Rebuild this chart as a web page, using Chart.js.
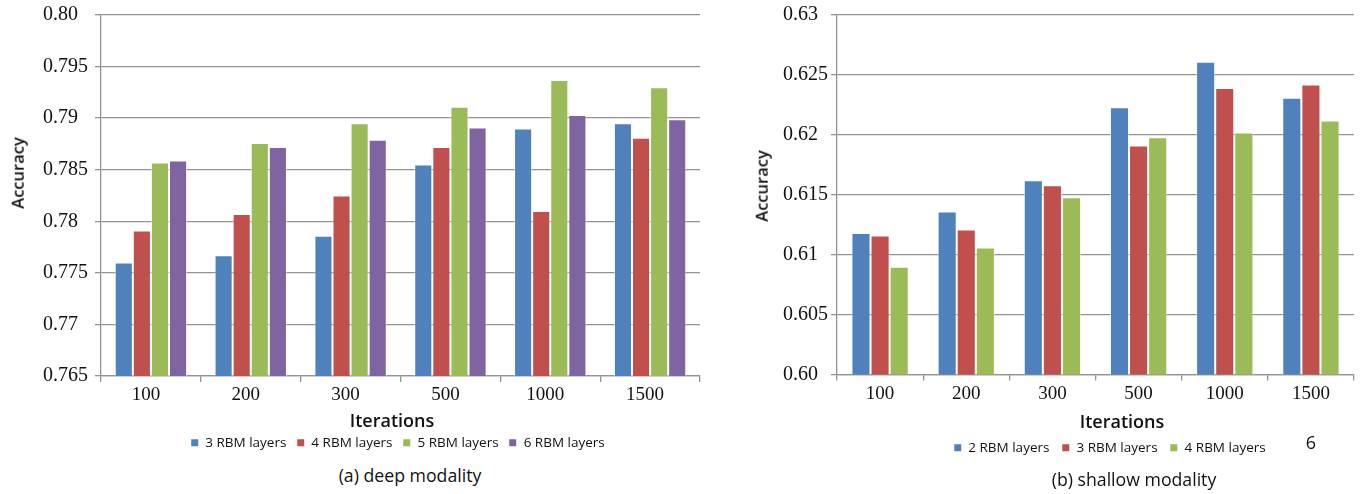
<!DOCTYPE html>
<html>
<head>
<meta charset="utf-8">
<script src="https://cdn.jsdelivr.net/npm/chart.js@4.4.1/dist/chart.umd.min.js"></script>
<style>
  html, body { margin: 0; padding: 0; background: #fff; }
  #wrap { position: relative; width: 1365px; height: 494px; overflow: hidden;
          font-family: 'Open Sans', sans-serif; color: #111; }
  canvas { position: absolute; top: 0; }
  .txt { position: absolute; white-space: nowrap; line-height: 1;
         transform: translate(-50%, -50%); }
  .ytitle { transform: translate(-50%, -50%) rotate(-90deg); font-size: 16.5px; font-weight: 600; }
  .xtitle { font-size: 18px; font-weight: 600; }
  .caption { font-size: 17.7px; }
  .legend { position: absolute; display: flex; align-items: center; gap: 11px;
            transform: translate(-50%, -50%); font-size: 13.5px; white-space: nowrap; line-height: 1; }
  .legend .item { display: flex; align-items: center; gap: 7px; }
  .legend i { display: inline-block; width: 7px; height: 7px; }
</style>
</head>
<body>
<div id="wrap">
  <canvas id="deep" width="710" height="410" style="left:0"></canvas>
  <canvas id="shallow" width="655" height="410" style="left:710px"></canvas>

  <div class="txt ytitle" style="left:18px; top:173px">Accuracy</div>
  <div class="txt ytitle" style="left:762px; top:186px">Accuracy</div>
  <div class="txt xtitle" style="left:392px; top:420px">Iterations</div>
  <div class="txt xtitle" style="left:1122px; top:421px">Iterations</div>
  <div class="legend" id="legendDeep" style="left:398px; top:443px"></div>
  <div class="legend" id="legendShallow" style="left:1110px; top:448px; gap:13px"></div>
  <div class="txt caption" style="left:410px; top:476px">(a) deep modality</div>
  <div class="txt caption" style="left:1134px; top:480px">(b) shallow modality</div>
  <div class="txt" style="left:1311px; top:442px; font-size:18px">6</div>
</div>

<script>
// Training iterations on the x axis (shared by both panels)
const iterations = ['100', '200', '300', '500', '1000', '1500'];

// (a) deep modality: accuracy per number of RBM layers
const deepNames = ['3 RBM layers', '4 RBM layers', '5 RBM layers', '6 RBM layers'];
const deep3 = [0.7760, 0.7767, 0.7786, 0.7855, 0.7890, 0.7895];
const deep4 = [0.7791, 0.7807, 0.7825, 0.7872, 0.7810, 0.7881];
const deep5 = [0.7857, 0.7876, 0.7895, 0.7911, 0.7937, 0.7930];
const deep6 = [0.7859, 0.7872, 0.7879, 0.7891, 0.7903, 0.7899];
const deepTicks = [0.765, 0.77, 0.775, 0.78, 0.785, 0.79, 0.795, 0.80];
const deepTickLabels = ['0.765', '0.77', '0.775', '0.78', '0.785', '0.79', '0.795', '0.80'];

// (b) shallow modality: accuracy per number of RBM layers
const shallowNames = ['2 RBM layers', '3 RBM layers', '4 RBM layers'];
const shallow2 = [0.6118, 0.6136, 0.6162, 0.6223, 0.6261, 0.6231];
const shallow3 = [0.6116, 0.6121, 0.6158, 0.6191, 0.6239, 0.6242];
const shallow4 = [0.6090, 0.6106, 0.6148, 0.6198, 0.6202, 0.6212];
const shallowTicks = [0.60, 0.605, 0.61, 0.615, 0.62, 0.625, 0.63];
const shallowTickLabels = ['0.60', '0.605', '0.61', '0.615', '0.62', '0.625', '0.63'];

const palette = ['#4F81BD', '#C0504D', '#9BBB59', '#8064A2'];
const gridColor = '#939393';

function buildChart(canvasId, names, series, ticks, tickLabels, cfg) {
  const datasets = series.map((values, i) => ({
    label: names[i],
    data: values,
    backgroundColor: palette[i],
    borderColor: 'rgba(255,255,255,0.55)',
    borderWidth: 1,
    categoryPercentage: cfg.groupShare,
    barPercentage: 1.0
  }));
  return new Chart(document.getElementById(canvasId), {
    type: 'bar',
    data: { labels: iterations, datasets },
    options: {
      responsive: false,
      animation: false,
      devicePixelRatio: 1,
      layout: { padding: cfg.padding },
      plugins: { legend: { display: false }, tooltip: { enabled: false } },
      scales: {
        x: {
          offset: true,
          grid: { offset: true, drawOnChartArea: false, drawTicks: true, tickLength: 6,
                  color: gridColor, lineWidth: 1.3 },
          border: { display: true, color: gridColor, width: 1.3 },
          ticks: { font: { family: 'Liberation Serif', size: 19 }, color: '#111',
                   padding: 2, labelOffset: cfg.labelShift, maxRotation: 0, autoSkip: false },
          afterFit: s => { s.height = 30; }
        },
        y: {
          min: ticks[0],
          max: ticks[ticks.length - 1],
          afterBuildTicks: s => { s.ticks = ticks.map(v => ({ value: v })); },
          grid: { color: gridColor, lineWidth: 1.3, drawTicks: true, tickLength: 6 },
          border: { display: true, color: gridColor, width: 1.3 },
          ticks: {
            font: { family: 'Liberation Serif', size: 20 }, color: '#111',
            crossAlign: 'far',
            callback: (v, i) => tickLabels[i]
          },
          afterFit: s => { s.width = cfg.yWidth; }
        }
      }
    }
  });
}

buildChart('deep', deepNames, [deep3, deep4, deep5, deep6], deepTicks, deepTickLabels, {
  groupShare: 0.725, padding: { left: 43, right: 10, top: 15, bottom: 4 }, yWidth: 58, labelShift: -5
});
buildChart('shallow', shallowNames, [shallow2, shallow3, shallow4], shallowTicks, shallowTickLabels, {
  groupShare: 0.665, padding: { left: 73, right: 11, top: 14, bottom: 5.5 }, yWidth: 54, labelShift: 0
});

// Legends below each panel
function buildLegend(id, names) {
  const box = document.getElementById(id);
  names.forEach((name, i) => {
    const item = document.createElement('span');
    item.className = 'item';
    const mark = document.createElement('i');
    mark.style.background = palette[i];
    const label = document.createElement('span');
    label.textContent = name;
    item.appendChild(mark);
    item.appendChild(label);
    box.appendChild(item);
  });
}
buildLegend('legendDeep', deepNames);
buildLegend('legendShallow', shallowNames);
</script>
</body>
</html>
